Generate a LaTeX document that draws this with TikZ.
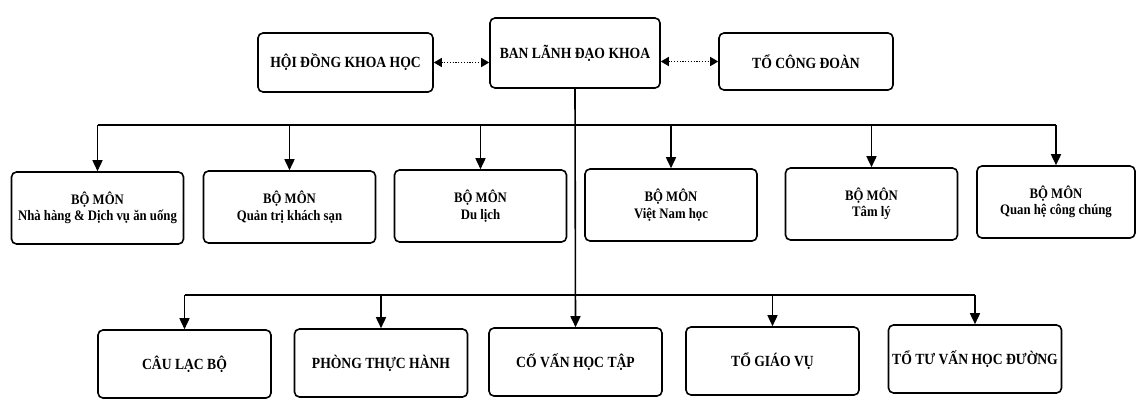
\documentclass[tikz,border=0pt]{standalone}
\usepackage{fontspec}
\setmainfont{Liberation Serif}[FakeStretch=0.88]
\usepackage{tikz}
\usetikzlibrary{arrows.meta, calc, positioning}

\begin{document}
\begin{tikzpicture}[x=1pt, y=-1pt,
  box/.style={draw, line width=1.6pt, rounded corners=5pt, inner sep=2pt, align=center,
    font=\fontsize{15.5}{17}\selectfont\bfseries},
  twoline/.style={box, font=\fontsize{14.5}{16.5}\selectfont\bfseries},
  link/.style={line width=1.6pt},
  drop/.style={line width=1.6pt, -{Triangle[length=11pt,width=10pt]}},
  dotlink/.style={line width=1.4pt, dash pattern=on 1.2pt off 1.6pt, {Triangle[length=8pt,width=9pt]}-{Triangle[length=8pt,width=9pt]}}]
\useasboundingbox (0,0) rectangle (1138,400);
\node[box, minimum width=175pt, minimum height=59pt] (hdkh) at (345.5,62.5) {HỘI ĐỒNG KHOA HỌC};
\node[box, minimum width=170pt, minimum height=70pt] (bld) at (575,53) {BAN LÃNH ĐẠO KHOA};
\node[box, minimum width=174pt, minimum height=57pt] (tcd) at (806,61.5) {TỔ CÔNG ĐOÀN};
\node[twoline, minimum width=172pt, minimum height=72pt] (nhahang) at (97.5,208) {BỘ MÔN\\Nhà hàng \& Dịch vụ ăn uống};
\node[twoline, minimum width=172pt, minimum height=72pt] (quantri) at (289.5,207) {BỘ MÔN\\Quản trị khách sạn};
\node[twoline, minimum width=172pt, minimum height=72pt] (dulich) at (480.5,206) {BỘ MÔN\\Du lịch};
\node[twoline, minimum width=172pt, minimum height=72pt] (vnhoc) at (671,205) {BỘ MÔN\\Việt Nam học};
\node[twoline, minimum width=172pt, minimum height=72pt] (tamly) at (871.5,204) {BỘ MÔN\\Tâm lý};
\node[twoline, minimum width=158pt, minimum height=72pt] (qhcc) at (1056,202) {BỘ MÔN\\Quan hệ công chúng};
\node[box, minimum width=173pt, minimum height=68pt] (clb) at (184.5,364) {CÂU LẠC BỘ};
\node[box, minimum width=173pt, minimum height=68pt] (pth) at (381,363) {PHÒNG THỰC HÀNH};
\node[box, minimum width=173pt, minimum height=68pt] (cvht) at (575.5,362) {CỐ VẤN HỌC TẬP};
\node[box, minimum width=173pt, minimum height=68pt] (tgv) at (772.5,361) {TỔ GIÁO VỤ};
\node[box, minimum width=173pt, minimum height=68pt] (ttvhd) at (975,359) {TỔ TƯ VẤN HỌC ĐƯỜNG};
\coordinate (topbus) at (0,125);
\coordinate (lowbus) at (0,295);
\draw[dotlink] (hdkh.east) -- (hdkh.east -| bld.west);
\draw[dotlink] (tcd.west -| bld.east) -- (tcd.west);
\draw[link] (nhahang.north |- topbus) -- (qhcc.north |- topbus);
\foreach \n in {nhahang,quantri,dulich,vnhoc,tamly,qhcc}{
  \draw[drop] (\n.north |- topbus) -- (\n.north);
}
\draw[drop] (bld.south) -- (cvht.north);
\draw[link] (clb.north |- lowbus) -- (ttvhd.north |- lowbus);
\foreach \n in {clb,pth,tgv,ttvhd}{
  \draw[drop] (\n.north |- lowbus) -- (\n.north);
}
\end{tikzpicture}
\end{document}
